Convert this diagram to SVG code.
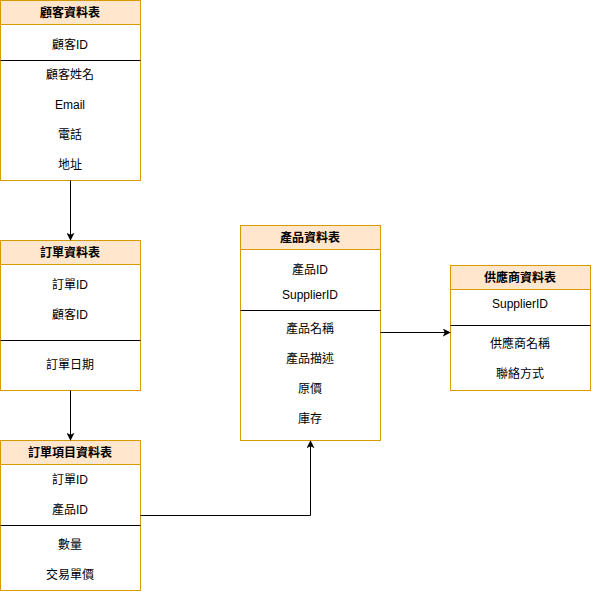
<svg xmlns="http://www.w3.org/2000/svg" width="592" height="591" viewBox="0 0 592 591">
<defs>
<style>
.box{fill:#ffffff;stroke:#d79b00;stroke-width:1}
.hdr{fill:#ffe6cc;stroke:#d79b00;stroke-width:1}
.sep{stroke:#000000;stroke-width:1}
text{font-family:"Liberation Sans","Noto Sans CJK TC",sans-serif;font-size:12px;fill:#000000;text-anchor:middle;dominant-baseline:central}
.t{font-weight:bold}
.edge{fill:none;stroke:#000000;stroke-width:1}
</style>
<marker id="arr" viewBox="0 0 10 10" refX="9" refY="5" markerWidth="8" markerHeight="8" markerUnits="userSpaceOnUse" orient="auto">
<path d="M0,0 L10,5 L0,10 L2.5,5 Z" fill="#000000"/>
</marker>
</defs>
<rect width="592" height="591" fill="#ffffff"/>
<g id="customer">
<rect class="box" x="0.5" y="0.5" width="140" height="180"/>
<rect class="hdr" x="0.5" y="0.5" width="140" height="24"/>
<text class="t" x="70" y="12.5">顧客資料表</text>
<text x="70" y="45">顧客ID</text>
<line class="sep" x1="0.5" y1="60.5" x2="140.5" y2="60.5"/>
<text x="70" y="75">顧客姓名</text>
<text x="70" y="105">Email</text>
<text x="70" y="135">電話</text>
<text x="70" y="165">地址</text>
</g>
<g id="order">
<rect class="box" x="0.5" y="240.5" width="140" height="150"/>
<rect class="hdr" x="0.5" y="240.5" width="140" height="24"/>
<text class="t" x="70" y="252.5">訂單資料表</text>
<text x="70" y="285">訂單ID</text>
<text x="70" y="315">顧客ID</text>
<line class="sep" x1="0.5" y1="340.5" x2="140.5" y2="340.5"/>
<text x="70" y="365">訂單日期</text>
</g>
<g id="orderitem">
<rect class="box" x="0.5" y="440.5" width="140" height="150"/>
<rect class="hdr" x="0.5" y="440.5" width="140" height="24"/>
<text class="t" x="70" y="452.5">訂單項目資料表</text>
<text x="70" y="480">訂單ID</text>
<text x="70" y="510">產品ID</text>
<line class="sep" x1="0.5" y1="525.5" x2="140.5" y2="525.5"/>
<text x="70" y="545">數量</text>
<text x="70" y="575">交易單價</text>
</g>
<g id="product">
<rect class="box" x="240.5" y="225.5" width="140" height="215"/>
<rect class="hdr" x="240.5" y="225.5" width="140" height="24"/>
<text class="t" x="310" y="237.5">產品資料表</text>
<text x="310" y="270">產品ID</text>
<text x="310" y="295">SupplierID</text>
<line class="sep" x1="240.5" y1="310.5" x2="380.5" y2="310.5"/>
<text x="310" y="329">產品名稱</text>
<text x="310" y="359">產品描述</text>
<text x="310" y="389">原價</text>
<text x="310" y="419">庫存</text>
</g>
<g id="supplier">
<rect class="box" x="450.5" y="265.5" width="140" height="125"/>
<rect class="hdr" x="450.5" y="265.5" width="140" height="24"/>
<text class="t" x="520" y="277.5">供應商資料表</text>
<text x="520" y="304">SupplierID</text>
<line class="sep" x1="450.5" y1="325.5" x2="590.5" y2="325.5"/>
<text x="520" y="344">供應商名稱</text>
<text x="520" y="374">聯絡方式</text>
</g>
<g id="connectors">
<path class="edge" d="M70.5,180.5 L70.5,240" marker-end="url(#arr)"/>
<path class="edge" d="M70.5,390.5 L70.5,440" marker-end="url(#arr)"/>
<path class="edge" d="M140.5,515.5 L310.5,515.5 L310.5,441" marker-end="url(#arr)"/>
<path class="edge" d="M380.5,332.5 L450,332.5" marker-end="url(#arr)"/>
</g>
</svg>
